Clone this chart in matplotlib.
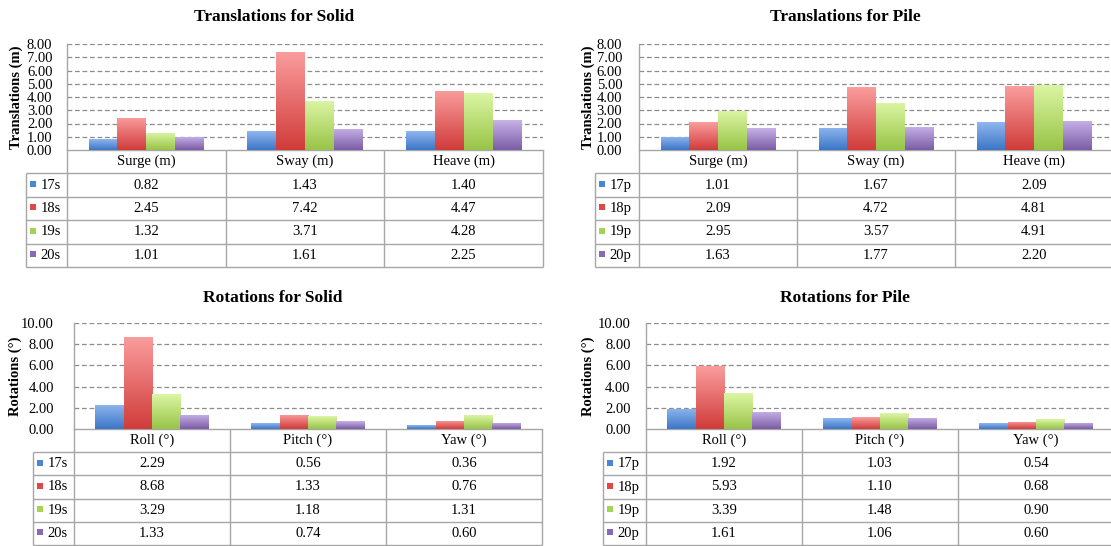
import numpy as np
import matplotlib
matplotlib.use("Agg")
import matplotlib.pyplot as plt
from matplotlib.patches import Rectangle

plt.rcParams['font.family'] = ['Liberation Serif', 'DejaVu Serif']

W, H = 1111, 546

# ---- data -------------------------------------------------------------
trans_categories = ["Surge (m)", "Sway (m)", "Heave (m)"]
rot_categories = ["Roll (°)", "Pitch (°)", "Yaw (°)"]
solid_series = ["17s", "18s", "19s", "20s"]
pile_series = ["17p", "18p", "19p", "20p"]

solid_trans_17 = [0.82, 1.43, 1.40]
solid_trans_18 = [2.45, 7.42, 4.47]
solid_trans_19 = [1.32, 3.71, 4.28]
solid_trans_20 = [1.01, 1.61, 2.25]

pile_trans_17 = [1.01, 1.67, 2.09]
pile_trans_18 = [2.09, 4.72, 4.81]
pile_trans_19 = [2.95, 3.57, 4.91]
pile_trans_20 = [1.63, 1.77, 2.20]

solid_rot_17 = [2.29, 0.56, 0.36]
solid_rot_18 = [8.68, 1.33, 0.76]
solid_rot_19 = [3.29, 1.18, 1.31]
solid_rot_20 = [1.33, 0.74, 0.60]

pile_rot_17 = [1.92, 1.03, 0.54]
pile_rot_18 = [5.93, 1.10, 0.68]
pile_rot_19 = [3.39, 1.48, 0.90]
pile_rot_20 = [1.61, 1.06, 0.60]

# ---- styling ----------------------------------------------------------
grad_top = ["#8fb6ee", "#fa9d9d", "#dcf6a4", "#c7b2e8"]
grad_bot = ["#3c76c6", "#d03c3a", "#98c447", "#7b5ca5"]
swatch = ["#4a86d4", "#e04848", "#a4d454", "#8a68b8"]
line_c = "#a6a6a6"
grid_c = "#8c8c8c"

fig = plt.figure(figsize=(W / 100, H / 100), dpi=100)


def px_axes(left, right, top, bottom):
    return fig.add_axes([left / W, 1 - bottom / H, (right - left) / W, (bottom - top) / H])


def to_rgb(c):
    return np.array(matplotlib.colors.to_rgb(c))


def gradient_bar(ax, bar, top, bot):
    x0, y0 = bar.get_x(), bar.get_y()
    w, h = bar.get_width(), bar.get_height()
    t = np.linspace(0, 1, 64)[:, None]
    img = (to_rgb(top)[None, :] * (1 - t) + to_rgb(bot)[None, :] * t)[:, None, :]
    im = ax.imshow(img, extent=(x0, x0 + w, y0, y0 + h), aspect='auto',
                   origin='upper', zorder=3, interpolation='bilinear')
    im.set_clip_path(bar)


def panel(title, title_xy, cats, names, series, ymax, ystep, ylabel,
          L, R, T, B, TL, TB, label_x, pad):
    ax = px_axes(L, R, T, B)
    n = len(names)
    ncat = len(cats)
    w = 1 / (n + 1.5)
    x = np.arange(ncat)
    for i, vals in enumerate(series):
        offs = (i - (n - 1) / 2) * w
        bars = ax.bar(x + offs, vals, w, color=swatch[i], edgecolor='none', zorder=2)
        for b in bars:
            gradient_bar(ax, b, grad_top[i], grad_bot[i])
    ax.set_xlim(-0.5, ncat - 0.5)
    ax.set_ylim(0, ymax)
    ticks = np.arange(0, ymax + 1e-9, ystep)
    ax.set_yticks(ticks)
    ax.set_yticklabels([f"{t:.2f}" for t in ticks])
    ax.set_xticks([])
    ax.tick_params(axis='y', length=0, pad=pad, labelsize=10.5)
    for yv in ticks[1:]:
        ax.axhline(yv, color=grid_c, lw=0.9, ls=(0, (3.8, 2.2)), zorder=1)
    for s in ['top', 'right']:
        ax.spines[s].set_visible(False)
    for s in ['left', 'bottom']:
        ax.spines[s].set_color(line_c)
        ax.spines[s].set_linewidth(1.0)
    ax.patch.set_alpha(0)

    fig.text(title_xy[0] / W, 1 - title_xy[1] / H, title, ha='center', va='center',
             fontsize=12.5, fontweight='bold')
    fig.text(label_x / W, 1 - (T + B) / 2 / H, ylabel, rotation=90, ha='center',
             va='center', fontsize=10.5, fontweight='bold')

    # data table under the plot
    tab = px_axes(TL, R, B, TB)
    u = (R - L) / ncat
    xleft = -0.5 - (L - TL) / u
    nrow = n + 1
    tab.set_xlim(xleft, ncat - 0.5)
    tab.set_ylim(0, nrow)
    tab.axis('off')
    kw = dict(color=line_c, lw=1.0, clip_on=False, solid_capstyle='butt')
    for xv in np.arange(-0.5, ncat, 1.0):
        tab.plot([xv, xv], [0, nrow], **kw)
    tab.plot([xleft, xleft], [0, n], **kw)
    for yv in range(0, n + 1):
        tab.plot([xleft, ncat - 0.5], [yv, yv], **kw)
    for j, c in enumerate(cats):
        tab.text(j, n + 0.5, c, ha='center', va='center', fontsize=10.5)
    row_px = (TB - B) / nrow
    for i, (nm, vals) in enumerate(zip(names, series)):
        yc = n - i - 0.5
        for j, v in enumerate(vals):
            tab.text(j, yc, f"{v:.2f}", ha='center', va='center', fontsize=10.5)
        sq = 6
        tab.add_patch(Rectangle((xleft + 4 / u, yc - 0.5 * sq / row_px + 1.2 / row_px),
                                sq / u, sq / row_px, color=swatch[i], lw=0,
                                clip_on=False))
        tab.text(xleft + 14.5 / u, yc, nm, ha='left', va='center', fontsize=10.5)
    return ax


panel("Translations for Solid", (274, 17), trans_categories, solid_series,
      [solid_trans_17, solid_trans_18, solid_trans_19, solid_trans_20],
      8, 1, "Translations (m)", 67, 543, 44, 150, 26, 267, 16, 10.5)
panel("Translations for Pile", (845, 17), trans_categories, pile_series,
      [pile_trans_17, pile_trans_18, pile_trans_19, pile_trans_20],
      8, 1, "Translations (m)", 639, 1113, 44, 150, 595, 267, 588, 12)
panel("Rotations for Solid", (273, 298), rot_categories, solid_series,
      [solid_rot_17, solid_rot_18, solid_rot_19, solid_rot_20],
      10, 2, "Rotations (°)", 74, 542, 323, 429, 33, 545, 15, 14.5)
panel("Rotations for Pile", (845, 298), rot_categories, pile_series,
      [pile_rot_17, pile_rot_18, pile_rot_19, pile_rot_20],
      10, 2, "Rotations (°)", 646, 1114, 323, 429, 603, 545, 588, 11)

fig.savefig("out.png", dpi=100)
